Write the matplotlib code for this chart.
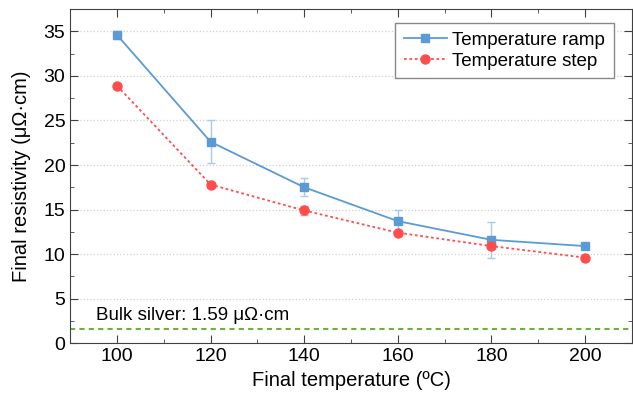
import matplotlib.pyplot as plt
from matplotlib.ticker import MultipleLocator

plt.rcParams['font.family'] = ['Liberation Sans', 'DejaVu Sans']

temps = [100, 120, 140, 160, 180, 200]
ramp = [34.6, 22.6, 17.5, 13.7, 11.6, 10.9]
ramp_err = [0.4, 2.4, 1.0, 1.3, 2.0, 0.3]
step = [28.9, 17.8, 14.9, 12.4, 10.9, 9.6]
step_err = [0.2, 0.3, 0.5, 0.2, 0.3, 0.2]
bulk = 1.59

blue = '#5b9bd5'
red = '#ff4d4d'

fig = plt.figure(figsize=(6.33, 3.99), dpi=100)
ax = fig.add_axes([0.111, 0.140, 0.887, 0.837])

# error bars first, then the lines (legend shows lines only)
ax.errorbar(temps, ramp, yerr=ramp_err, fmt='none', ecolor='#a9c9e8',
            elinewidth=1.0, capsize=3)
ax.errorbar(temps, step, yerr=step_err, fmt='none', ecolor='#ff9a9a',
            elinewidth=1.0, capsize=3)
ax.plot(temps, ramp, color=blue, marker='s', ms=6, lw=1.3, label='Temperature ramp')
ax.plot(temps, step, color=red, marker='o', ms=6.5, lw=1.3, ls=(0, (1.5, 1.5)),
        label='Temperature step')
ax.axhline(bulk, color='#70ad47', lw=1.5, ls=(0, (2.5, 2)))
ax.text(95.5, 2.6, 'Bulk silver: 1.59 μΩ·cm', fontsize=13.5)

ax.set_xlim(90, 210)
ax.set_ylim(0, 37.5)
ax.xaxis.set_major_locator(MultipleLocator(20))
ax.xaxis.set_minor_locator(MultipleLocator(10))
ax.yaxis.set_major_locator(MultipleLocator(5))
ax.yaxis.set_minor_locator(MultipleLocator(2.5))
for s in ax.spines.values():
    s.set_color('#404040')
ax.tick_params(which='both', direction='in', top=True, right=True, labelsize=14,
               color='#404040')
ax.tick_params(which='major', length=6)
ax.tick_params(which='minor', length=3)
ax.grid(axis='y', which='major', color='#d0d0d0', ls=':', lw=0.9)
ax.set_axisbelow(True)

ax.set_xlabel('Final temperature (ºC)', fontsize=14.5)
ax.set_ylabel('Final resistivity (μΩ·cm)', fontsize=14.5, labelpad=9)

ax.legend(loc='upper right', bbox_to_anchor=(0.968, 0.958), borderaxespad=0,
          fontsize=13.5, fancybox=False, edgecolor='#888888', framealpha=1,
          handlelength=2.3, borderpad=0.45, labelspacing=0.2, handletextpad=0.3)

fig.savefig('out.png', dpi=100)
